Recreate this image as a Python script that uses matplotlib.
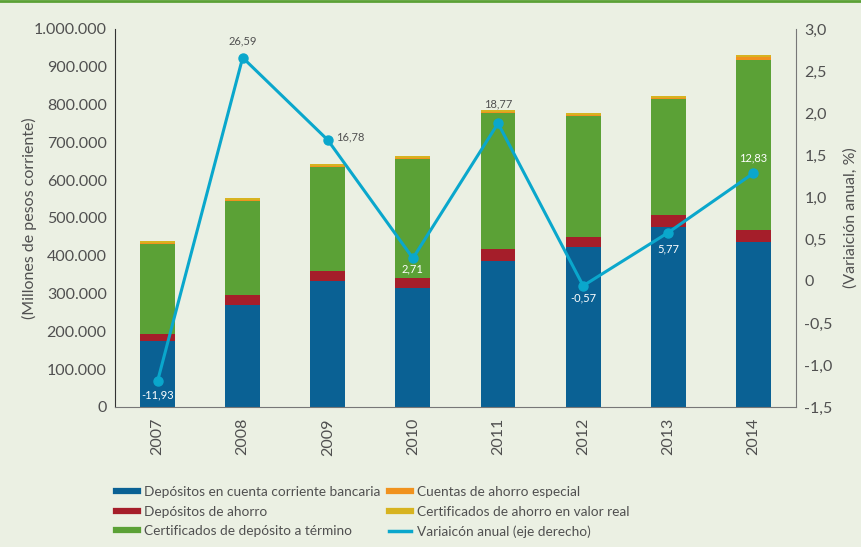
import matplotlib.pyplot as plt
import numpy as np
from matplotlib.ticker import FuncFormatter
from matplotlib.lines import Line2D

years = ['2007', '2008', '2009', '2010', '2011', '2012', '2013', '2014']
cuenta_corriente = [174000, 271000, 334000, 316000, 385000, 423000, 475000, 436000]
depositos_ahorro = [18000, 24000, 26000, 25000, 33000, 26000, 32000, 32000]
cdt = [239000, 250000, 276000, 315000, 360000, 322000, 308000, 449000]
ahorro_especial = [1500, 1500, 1500, 1500, 1500, 1500, 1500, 8000]
valor_real = [6000, 7000, 6000, 7000, 7000, 6000, 7000, 7000]
variacion = [-11.93, 26.59, 16.78, 2.71, 18.77, -0.57, 5.77, 12.83]

series = [
    (cuenta_corriente, '#0A6194', 'Depósitos en cuenta corriente bancaria'),
    (depositos_ahorro, '#A51E2A', 'Depósitos de ahorro'),
    (cdt, '#5BA136', 'Certificados de depósito a término'),
    (ahorro_especial, '#F0921E', 'Cuentas de ahorro especial'),
    (valor_real, '#D7B320', 'Certificados de ahorro en valor real'),
]
line_color = '#0AA7CC'
bg = '#EBF0E3'
txt = '#505050'

plt.rcParams['font.family'] = ['Lato', 'DejaVu Sans']

fig = plt.figure(figsize=(8.62, 5.47), dpi=100, facecolor=bg)
ax = fig.add_axes([0.1334, 0.256, 0.79, 0.691])
ax.set_facecolor(bg)

x = np.arange(len(years))
bottom = np.zeros(len(years))
for vals, col, lab in series:
    ax.bar(x, vals, 0.41, bottom=bottom, color=col, edgecolor='none')
    bottom += np.array(vals)

ax.set_xlim(-0.5, 7.5)
ax.set_ylim(0, 1000000)
ax.set_yticks(np.arange(0, 1000001, 100000))
ax.yaxis.set_major_formatter(FuncFormatter(lambda v, p: f'{int(v):,}'.replace(',', '.')))
ax.set_xticks(x)
ax.set_xticklabels(years, rotation=90, fontsize=11, color=txt)
ax.tick_params(axis='both', length=0, labelsize=11.5, labelcolor=txt, pad=6)
ax.tick_params(axis='x', pad=8)
ax.set_ylabel('(Millones de pesos corriente)', fontsize=11.5, color=txt)
ax.yaxis.set_label_coords(-0.115, 0.5)
for s in ['top', 'right']:
    ax.spines[s].set_visible(False)
ax.spines['left'].set_color('#333333')
ax.spines['bottom'].set_color('#777777')

ax2 = ax.twinx()
yv = [v / 10 for v in variacion]
ax2.plot(x, yv, color=line_color, lw=2.2, marker='o', ms=6.5, zorder=5)
ax2.set_ylim(-1.5, 3.0)
ax2.set_yticks(np.arange(-1.5, 3.01, 0.5))
ax2.yaxis.set_major_formatter(FuncFormatter(lambda v, p: '0' if abs(v) < 1e-9 else f'{v:.1f}'.replace('.', ',')))
ax2.tick_params(axis='y', length=0, labelsize=11.5, labelcolor=txt, pad=6)
ax2.set_ylabel('(Variaición anual, %)', fontsize=11.5, color=txt, rotation=90, labelpad=8)
for s in ['top', 'left', 'bottom']:
    ax2.spines[s].set_visible(False)
ax2.spines['right'].set_color('#777777')

# label placement: (dx, dy in points, ha, color)
offsets = [(0, -10, 'center', 'white'), (0, 12, 'center', txt), (6, 2, 'left', txt),
           (0, -8, 'center', 'white'), (0, 14, 'center', txt), (0, -9, 'center', 'white'),
           (0, -12, 'center', 'white'), (0, 11, 'center', 'white')]
for xi, yi, v, (dx, dy, ha, c) in zip(x, yv, variacion, offsets):
    ax2.annotate(f'{v:.2f}'.replace('.', ','), (xi, yi), xytext=(dx, dy),
                 textcoords='offset points', ha=ha, va='center',
                 fontsize=8, color=c, zorder=6)

handles = [Line2D([], [], color=c, lw=4.5) for _, c, _ in series]
labels = [l for _, _, l in series]
handles.append(Line2D([], [], color=line_color, lw=2.5))
labels.append('Variaicón anual (eje derecho)')
fig.legend(handles, labels, loc='upper left', bbox_to_anchor=(0.128, 0.121),
           ncol=2, frameon=False, labelcolor=txt, fontsize=9.8,
           handlelength=1.6, handletextpad=0.5, columnspacing=0.6,
           labelspacing=0.55, borderaxespad=0)

fig.add_artist(Line2D([0, 1], [0.998, 0.998], transform=fig.transFigure, color='#5BA136', lw=2))

fig.savefig('out.png', dpi=100, facecolor=bg)
